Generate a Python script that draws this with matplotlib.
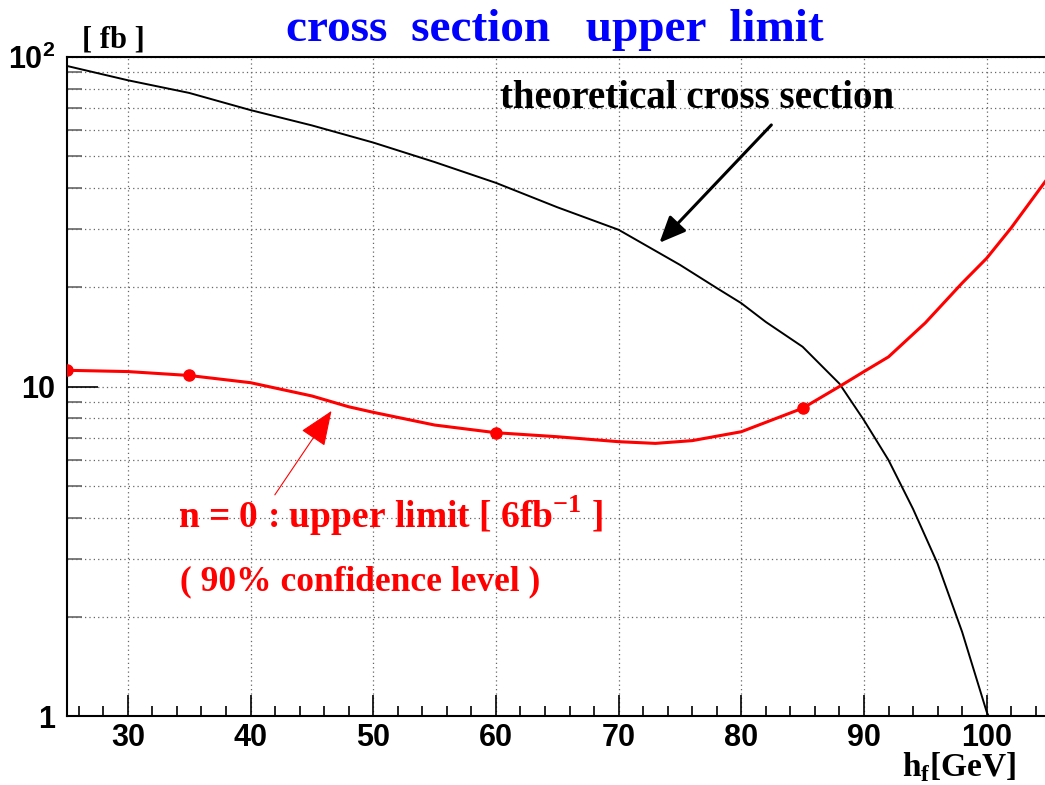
import numpy as np
import matplotlib
matplotlib.use('Agg')
import matplotlib.pyplot as plt
from matplotlib.ticker import FixedLocator, FixedFormatter, LogLocator, NullFormatter

plt.rcParams['mathtext.fontset'] = 'custom'
plt.rcParams['mathtext.bf'] = 'Liberation Serif:bold'
plt.rcParams['mathtext.rm'] = 'Liberation Serif:bold'
plt.rcParams['mathtext.sf'] = 'Liberation Sans:bold'

# theoretical cross section [fb] vs h_f mass [GeV]
theory_x = [25, 30, 35, 40, 45, 50, 55, 60, 65, 70, 75, 78, 80, 82, 85,
            88, 90, 92, 94, 96, 98, 100, 101]
theory_y = [94, 85, 77.8, 69, 62, 55, 48, 41.5, 35, 29.9, 23.4, 19.9, 17.9,
            15.7, 13.2, 10.2, 7.9, 5.98, 4.25, 2.9, 1.8, 1.03, 0.85]

# n = 0 upper limit (90% CL), 6 fb^-1
limit_x = [25, 30, 35, 40, 45, 48, 50, 55, 60, 65, 70, 73, 76, 80, 85,
           88, 90, 92, 95, 98, 100, 102, 105]
limit_y = [11.2, 11.1, 10.8, 10.27, 9.36, 8.68, 8.35, 7.64, 7.24, 7.04, 6.80,
           6.72, 6.85, 7.29, 8.59, 10.0, 11.1, 12.3, 15.6, 20.6, 24.5, 30.3, 43]

marker_x = [25, 35, 60, 85]
marker_y = [11.2, 10.8, 7.24, 8.59]

W, H = 1045, 785
fig = plt.figure(figsize=(W / 100, H / 100), dpi=100)
ax = fig.add_axes([66.5 / W, (H - 716) / H, (1048 - 66.5) / W, (716 - 57) / H])

ax.set_yscale('log')
ax.set_xlim(25, 105)
ax.set_ylim(1, 100)

ax.plot(theory_x, theory_y, color='black', lw=1.4, zorder=3)
ax.plot(limit_x, limit_y, color='red', lw=2.2, zorder=4)
ax.plot(marker_x, marker_y, 'o', color='red', ms=8, zorder=5)

# ticks
ax.xaxis.set_major_locator(FixedLocator(range(30, 101, 10)))
ax.xaxis.set_minor_locator(FixedLocator(range(26, 105, 2)))
ax.yaxis.set_major_locator(FixedLocator([1, 10, 100]))
ax.yaxis.set_major_formatter(FixedFormatter(['1', '10', r'$\mathsf{10^{2}}$']))
ax.yaxis.set_minor_locator(LogLocator(base=10, subs=np.arange(2, 10)))
ax.yaxis.set_minor_formatter(NullFormatter())

ax.tick_params(axis='both', which='both', direction='in', top=False, right=False)
ax.xaxis.set_tick_params(which='major', length=15, width=1.2, pad=5)
ax.xaxis.set_tick_params(which='minor', length=7, width=1.2)
ax.yaxis.set_tick_params(which='major', length=22, width=1.2, pad=8)
ax.yaxis.set_tick_params(which='minor', length=11, width=1.2, color='#666666')
for lab in ax.get_xticklabels() + ax.get_yticklabels():
    lab.set_fontfamily('Liberation Sans')
    lab.set_fontweight('bold')
    lab.set_fontsize(22)

ax.grid(True, axis='x', which='major', ls=(0, (1, 2.5)), color='#666666', lw=0.9)
ax.grid(True, axis='y', which='both', ls=(0, (1, 2.5)), color='#666666', lw=0.9)
ax.set_axisbelow(True)
for s in ax.spines.values():
    s.set_linewidth(1.5)

# arrows
ax.annotate('', xy=(73.33, 27.3), xytext=(82.45, 62.2),
            arrowprops=dict(arrowstyle='-|>,head_length=1.6,head_width=0.7',
                            color='black', lw=2.2, shrinkA=0, shrinkB=0))
ax.annotate('', xy=(46.6, 8.43), xytext=(41.98, 4.69),
            arrowprops=dict(arrowstyle='-|>,head_length=2.2,head_width=0.9',
                            color='red', lw=0.8, shrinkA=0, shrinkB=0))

serif = 'Liberation Serif'
def ftext(px, py, s, **kw):
    fig.text(px / W, 1 - py / H, s, family=serif, weight='bold', **kw)

ftext(555, 30, 'cross  section   upper  limit', color='#0000ff', fontsize=34,
      ha='center', va='center')
ftext(82, 47, '[ fb ]', fontsize=22, ha='left', va='baseline')
ftext(500, 108, 'theoretical cross section', fontsize=28, ha='left', va='baseline')
ftext(178, 528, r'n = 0 : upper limit [ 6fb$^{\mathbf{-1}}$ ]', color='red',
      fontsize=27, ha='left', va='baseline')
ftext(180, 590, '( 90% confidence level )', color='red', fontsize=25.5,
      ha='left', va='baseline')
ftext(902, 776, r'h$_{\mathbf{f}}$[GeV]', fontsize=24, ha='left', va='baseline')

fig.savefig('out.png', dpi=100)
